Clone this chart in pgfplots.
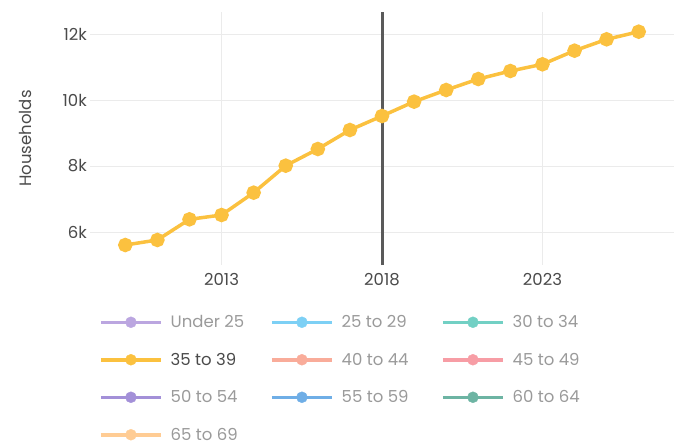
\documentclass[border=0pt]{standalone}
\usepackage{pgfplots}
\pgfplotsset{compat=1.18}
\usepackage{fontspec}
\setmainfont{Poppins}

\definecolor{cUnder}{HTML}{BBA6E0}
\definecolor{cTwentyFive}{HTML}{7DD0F5}
\definecolor{cThirty}{HTML}{72D0C4}
\definecolor{cThirtyFive}{HTML}{FBC13F}
\definecolor{cForty}{HTML}{F9AC9A}
\definecolor{cFortyFive}{HTML}{F79DA5}
\definecolor{cFifty}{HTML}{A390D8}
\definecolor{cFiftyFive}{HTML}{6FAEE6}
\definecolor{cSixty}{HTML}{6DB4A3}
\definecolor{cSixtyFive}{HTML}{FFCC94}
\definecolor{gridgray}{HTML}{EBEBEB}
\definecolor{labelgray}{HTML}{4A4A4A}
\definecolor{legendgray}{HTML}{9A9A9A}
\definecolor{markline}{HTML}{5A5A5A}

\newcommand{\lentry}[1]{\makebox[99.5pt][l]{\color{legendgray}#1}}

\begin{document}
\begin{tikzpicture}
\path[use as bounding box] (0,0) rectangle (674pt,447pt);
\begin{axis}[
    at={(90pt,182pt)},
    anchor=south west,
    scale only axis,
    width=584pt,
    height=253pt,
    xmin=2008.9, xmax=2027.1,
    ymin=5000, ymax=12667,
    axis line style={draw=none},
    major tick length=0pt,
    grid=major,
    major grid style={gridgray, line width=1pt},
    xtick={2013,2018,2023},
    xticklabels={2013,2018,2023},
    ytick={6000,8000,10000,12000},
    yticklabels={6k,8k,10k,12k},
    scaled y ticks=false,
    tick label style={font=\fontsize{16.5}{18}\selectfont, text=labelgray},
    xticklabel style={inner sep=0pt, yshift=-8pt},
    yticklabel style={inner sep=0pt, xshift=-3pt},
    ylabel={Households},
    ylabel style={font=\fontsize{16.5}{18}\selectfont, text=labelgray,
        at={(axis description cs:-0.111,0.5)}, anchor=center},
    legend columns=3,
    legend cell align=left,
    legend style={
        at={(axis description cs:0.0154,-0.186)},
        anchor=north west,
        draw=none,
        fill=none,
        inner sep=0pt,
        font=\fontsize{16.5}{18}\selectfont,
        nodes={inner sep=0pt, minimum height=20pt},
        row sep=17.5pt,
        column sep=0pt,
        /tikz/every odd column/.style={column sep=8pt},
    },
    legend image code/.code={
        \draw[#1, line width=3.5pt] (0pt,0pt) -- (60pt,0pt);
        \fill[#1] (30pt,0pt) circle (5.5pt);
    },
]
\addlegendimage{color=cUnder}
\addlegendentry{\lentry{Under 25}}
\addlegendimage{color=cTwentyFive}
\addlegendentry{\lentry{25 to 29}}
\addlegendimage{color=cThirty}
\addlegendentry{\lentry{30 to 34}}
\addlegendimage{color=cThirtyFive}
\addlegendentry{\makebox[99.5pt][l]{\color{labelgray}35 to 39}}
\addlegendimage{color=cForty}
\addlegendentry{\lentry{40 to 44}}
\addlegendimage{color=cFortyFive}
\addlegendentry{\lentry{45 to 49}}
\addlegendimage{color=cFifty}
\addlegendentry{\lentry{50 to 54}}
\addlegendimage{color=cFiftyFive}
\addlegendentry{\lentry{55 to 59}}
\addlegendimage{color=cSixty}
\addlegendentry{\lentry{60 to 64}}
\addlegendimage{color=cSixtyFive}
\addlegendentry{\lentry{65 to 69}}

% 35 to 39, the one series shown
\addplot[forget plot, color=cThirtyFive, line width=3.5pt, mark=*, mark size=5.5pt,
    mark options={solid, fill=cThirtyFive, draw=none}]
coordinates {
    (2010,5606) (2011,5758) (2012,6384) (2013,6515) (2014,7192)
    (2015,8010) (2016,8515) (2017,9091) (2018,9515) (2019,9950)
    (2020,10303) (2021,10636) (2022,10879) (2023,11082) (2024,11495)
    (2025,11839) (2026,12070)
};

% marker line at 2018
\addplot[forget plot, color=markline, line width=3pt] coordinates {(2018,5000) (2018,12667)};
\end{axis}
\end{tikzpicture}
\end{document}
